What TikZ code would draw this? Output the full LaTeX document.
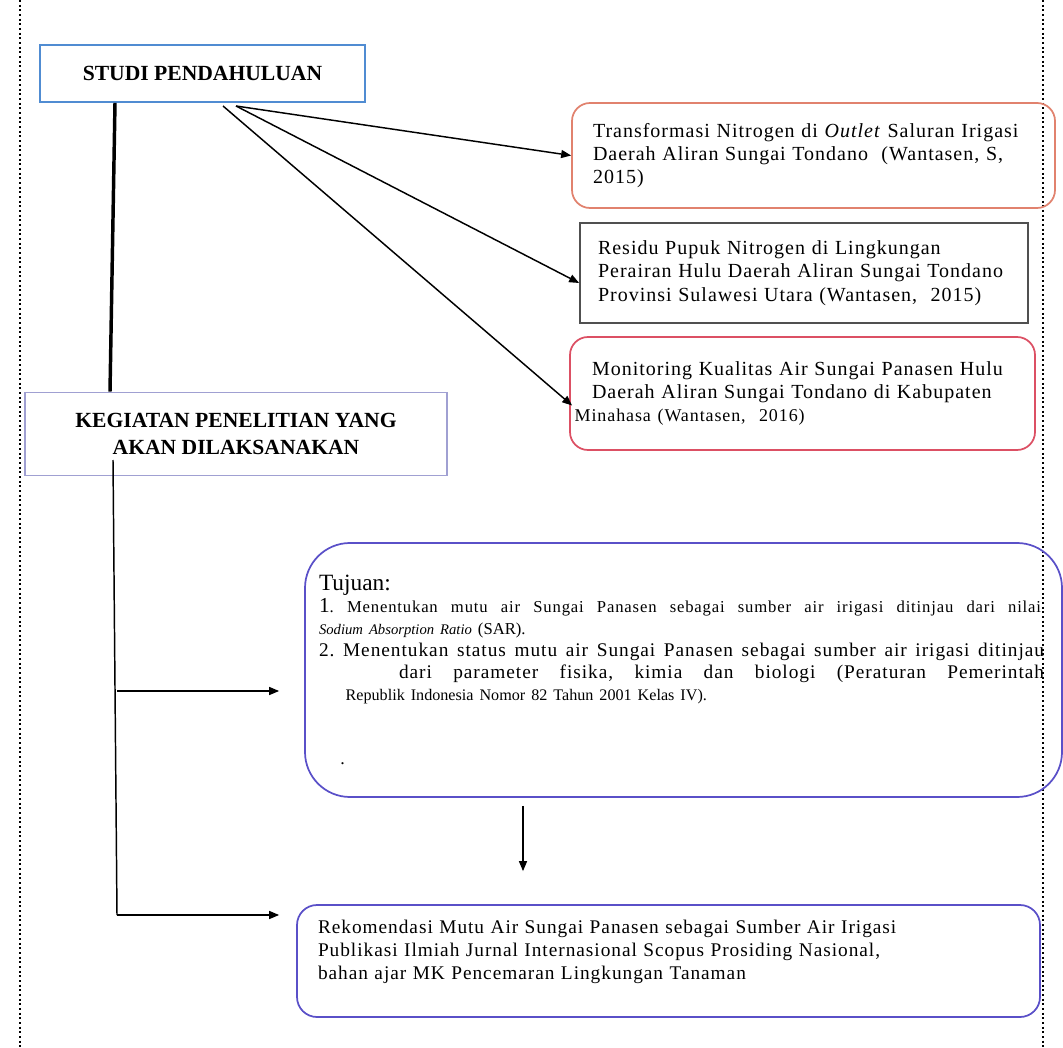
\documentclass[tikz,border=0pt]{standalone}
\usepackage{fontspec}
\setmainfont{Liberation Serif}
\newfontfamily\spaced{Liberation Serif}[LetterSpace=5]
\usetikzlibrary{arrows.meta,calc,positioning}

\definecolor{studiblue}{RGB}{80,140,210}
\definecolor{kegline}{RGB}{160,160,210}
\definecolor{salmon}{RGB}{225,130,110}
\definecolor{darkgray}{RGB}{80,80,80}
\definecolor{rosered}{RGB}{220,80,100}
\definecolor{violet}{RGB}{90,80,200}

% justified line of a given width
\newcommand{\fillline}[2]{\makebox[#1][s]{\frenchspacing\spaceskip=0pt\xspaceskip=0pt #2}}

\begin{document}
\begin{tikzpicture}[x=0.75pt,y=-0.75pt,
    titlebox/.style={draw,line width=1.3pt,align=center,inner sep=0pt,
      font=\fontsize{16.2}{20}\selectfont\bfseries},
    refbox/.style={draw,line width=1.3pt,align=left,inner ysep=0pt,
      font=\spaced\fontsize{15}{17.5}\selectfont},
    goalbox/.style={draw=violet,line width=1.3pt,align=left,inner ysep=0pt},
    link/.style={line width=1.1pt,-{Triangle[length=7.5pt,width=6pt]}}]
  \useasboundingbox (0,0) rectangle (1063,1048);

  % page margins
  \draw[dotted,line width=1.5pt] (20,0) -- (20,1048);
  \draw[dotted,line width=1.5pt] (1043,0) -- (1043,1048);

  \node[titlebox,draw=studiblue,minimum width=243.75pt,minimum height=42.75pt] (studi) at (202.5,73.5) {STUDI PENDAHULUAN};
  \node[titlebox,draw=kegline,minimum width=316.5pt,minimum height=62.25pt] (kegiatan) at (236,434)
    {KEGIATAN PENELITIAN YANG\\AKAN DILAKSANAKAN};

  \node[refbox,draw=salmon,rounded corners=13.5pt,minimum width=362.25pt,minimum height=78.75pt,
    inner xsep=15.75pt,text width=330.75pt] (trans) at (813.5,155.5)
    {Transformasi Nitrogen di \emph{Outlet} Saluran Irigasi\\
     Daerah Aliran Sungai Tondano\ \ (Wantasen, S,\\
     2015)};
  \node[refbox,draw=darkgray,minimum width=336pt,minimum height=75pt,
    inner xsep=13.5pt,text width=309pt] (residu) at (804,273)
    {Residu Pupuk Nitrogen di Lingkungan\\
     Perairan Hulu Daerah Aliran Sungai Tondano\\
     Provinsi Sulawesi Utara (Wantasen,\ \ 2015)};
  \node[refbox,draw=rosered,rounded corners=13.5pt,minimum width=348.75pt,minimum height=84.75pt,
    inner xsep=16.5pt,text width=315.75pt] (monit) at (802.5,393.5)
    {Monitoring Kualitas Air Sungai Panasen Hulu\\
     Daerah Aliran Sungai Tondano di Kabupaten\\
     \hspace*{-13pt}{\fontsize{13.5}{17.5}\selectfont Minahasa (Wantasen,\ \ 2016)}};

  \node[goalbox,rounded corners=33.75pt,minimum width=567.75pt,minimum height=190.5pt,
    inner xsep=10.5pt,text width=546.75pt,font=\fontsize{13.5}{16.5}\selectfont] (tujuan) at (683.5,670)
    {{\fontsize{17.5}{20}\selectfont Tujuan:}\\
     \fillline{541.5pt}{{\fontsize{16}{16.5}\selectfont 1}{\spaced\fontsize{12.5}{16.5}\selectfont. Menentukan mutu air Sungai Panasen sebagai sumber air irigasi ditinjau dari nilai}}\\
     {\fontsize{11}{16.5}\selectfont\itshape Sodium Absorption Ratio} {\fontsize{12.5}{16.5}\selectfont(SAR).}\\
     \fillline{543.75pt}{\spaced\fontsize{14.5}{16.5}\selectfont 2. Menentukan status mutu air Sungai Panasen sebagai sumber air irigasi ditinjau}\\
     \hspace*{60pt}\fillline{483.75pt}{\spaced\fontsize{14.5}{16.5}\selectfont dari parameter fisika, kimia dan biologi (Peraturan Pemerintah}\\
     \hspace*{20pt}{\fontsize{12.1}{16.5}\selectfont Republik Indonesia Nomor 82 Tahun 2001 Kelas IV).}\\[32pt]
     \hspace*{16pt}.};

  \node[refbox,draw=violet,rounded corners=15pt,minimum width=557.25pt,minimum height=84pt,
    inner xsep=15.75pt,text width=525.75pt,font=\spaced\fontsize{14.5}{17}\selectfont] (hasil) at (668.5,961)
    {Rekomendasi Mutu Air Sungai Panasen sebagai Sumber Air Irigasi\\
     Publikasi Ilmiah Jurnal Internasional Scopus Prosiding Nasional,\\
     bahan ajar MK Pencemaran Lingkungan Tanaman\\ ~};

  % studi pendahuluan links
  \coordinate (sk1) at (115,0);
  \coordinate (sk2) at (110,0);
  \draw[line width=2.6pt] (studi.south -| sk1) -- (kegiatan.north -| sk2);
  \coordinate (fanA) at (236,106);
  \coordinate (fanB) at (223,106);
  \draw[link] (fanA) -- (trans.west);
  \draw[link] (fanA) -- ($(residu.west)+(0,10)$);
  \draw[link] (fanB) -- ($(monit.west)+(3,12)$);

  % kegiatan links
  \coordinate (t0) at (113,460);
  \coordinate (t1) at (117,691);
  \coordinate (t2) at (117,915);
  \draw[line width=1.1pt] (t0) -- (t2);
  \draw[link,shorten >=18.75pt] (t1) -- (t1 -| tujuan.west);
  \draw[link,shorten >=12.75pt] (t2) -- (t2 -| hasil.west);
  \coordinate (d) at (523,0);
  \draw[link,shorten <=6pt,shorten >=24.75pt] (tujuan.south -| d) -- (hasil.north -| d);
\end{tikzpicture}
\end{document}
